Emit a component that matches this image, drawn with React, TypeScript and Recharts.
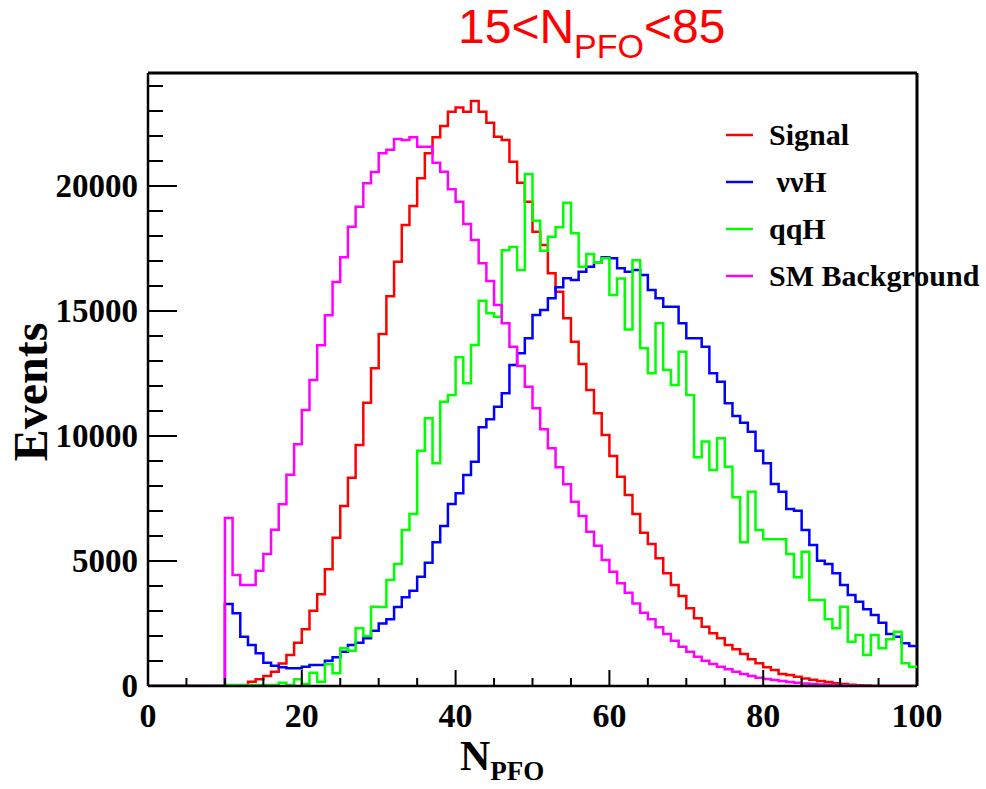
import React from 'react';
import { LineChart, Line, XAxis, YAxis, ReferenceLine, Legend, Label } from 'recharts';

// bin contents, one value per unit bin of N_PFO from 0 to 99
const signal = [
  0, 0, 0, 0, 0, 0, 0, 0, 0, 0,
  0, 0, 0, 170, 270, 400, 570, 900, 1240, 1730,
  2270, 3010, 3670, 4670, 5930, 7200, 8330, 9640, 11330, 12710,
  14080, 15590, 16970, 18440, 19200, 20310, 21310, 21950, 22400, 22970,
  23140, 22970, 23400, 22970, 22530, 21970, 21840, 20970, 20130, 19370,
  18170, 17640, 16510, 15770, 14710, 13770, 12880, 11840, 10910, 10040,
  9200, 8370, 7640, 6880, 6130, 5680, 5110, 4510, 4040, 3600,
  3110, 2710, 2370, 2110, 1910, 1640, 1470, 1280, 1070, 910,
  750, 640, 480, 440, 370, 300, 250, 200, 160, 110,
  80, 50, 30, 20, 0, 0, 0, 0, 0, 0,
];

const nunuH = [
  0, 0, 0, 0, 0, 0, 0, 0, 0, 0,
  3280, 2910, 1970, 1640, 1310, 930, 810, 750, 710, 710,
  770, 840, 840, 1010, 1150, 1370, 1640, 1730, 1910, 2210,
  2500, 2670, 3160, 3550, 3810, 4370, 4930, 5750, 6400, 7280,
  7710, 8440, 8970, 10350, 10670, 11170, 11710, 12840, 13310, 13910,
  14840, 15040, 15510, 15950, 16310, 16240, 16570, 16770, 16930, 17150,
  17110, 16710, 16570, 16640, 16440, 15840, 15510, 15170, 15170, 14510,
  13910, 13910, 13570, 12510, 12170, 11310, 10800, 10530, 10170, 9410,
  8910, 8080, 7770, 7080, 7010, 6240, 5640, 5010, 4880, 4510,
  4040, 3640, 3370, 3070, 2840, 2530, 2080, 1970, 1710, 1600,
];

const qqH = [
  0, 0, 0, 0, 0, 0, 0, 0, 0, 0,
  40, 40, 40, 40, 40, 40, 40, 130, 40, 270,
  80, 530, 170, 880, 510, 1510, 1410, 2310, 2000, 3170,
  3160, 4240, 4880, 6240, 6880, 9410, 10710, 8910, 11370, 11640,
  13150, 12110, 13640, 15410, 14910, 14770, 17430, 17560, 16640, 20480,
  18610, 17410, 17970, 18350, 19330, 18110, 16770, 17280, 16930, 17110,
  15640, 16300, 14260, 17030, 13510, 12510, 14510, 12640, 12040, 13370,
  11640, 9150, 9780, 8640, 9910, 8770, 7550, 5750, 7770, 6240,
  5870, 5870, 5870, 5280, 4350, 5370, 3440, 3440, 2670, 2310,
  3170, 1770, 2040, 1240, 2040, 1510, 1870, 2170, 910, 770,
];

const smBackground = [
  0, 0, 0, 0, 0, 0, 0, 0, 0, 0,
  6720, 4440, 4040, 4040, 4610, 5280, 6250, 7270, 8450, 9670,
  11040, 12240, 13630, 14830, 16160, 17150, 18370, 19170, 20110, 20560,
  21310, 21450, 21880, 21840, 21950, 21570, 21570, 20930, 20570, 19870,
  19370, 18480, 17840, 16910, 16200, 15240, 14510, 13570, 12800, 11970,
  11110, 10270, 9510, 8750, 8070, 7370, 6800, 6170, 5610, 5040,
  4570, 4110, 3730, 3300, 2930, 2670, 2350, 2080, 1810, 1570,
  1370, 1170, 1010, 880, 770, 670, 570, 480, 400, 330,
  280, 240, 200, 160, 130, 100, 80, 60, 50, 40,
  30, 20, 10, 0, 0, 0, 0, 0, 0, 0,
];

const xMajorTicks = [0, 20, 40, 60, 80, 100];
const yMajorTicks = [0, 5000, 10000, 15000, 20000];
const Y_MAX = 24520;

const series = [
  { key: 'signal', name: 'Signal', color: '#ff0000', values: signal },
  { key: 'nunuH', name: ' \u03bd\u03bdH', color: '#0000ff', values: nunuH },
  { key: 'qqH', name: 'qqH', color: '#00ff00', values: qqH },
  { key: 'sm', name: 'SM Background', color: '#ff00ff', values: smBackground },
];

// one row per bin edge; the last edge repeats the last bin so the step closes at 100
const data = Array.from({ length: 101 }, (_, i) => {
  const row: Record<string, number> = { x: i };
  series.forEach((s) => {
    row[s.key] = s.values[Math.min(i, 99)];
  });
  return row;
});

const xTicks = Array.from({ length: 21 }, (_, i) => i * 5);
const yTicks = Array.from({ length: 25 }, (_, i) => i * 1000);

const SERIF = '"Liberation Serif", "DejaVu Serif", serif';

const XTick = (props: any) => {
  const { x, y, payload } = props;
  const major = xMajorTicks.includes(payload.value);
  return (
    <g>
      <line x1={x} x2={x} y1={y} y2={y - (major ? 16 : 8)} stroke="#000" strokeWidth={2} />
      {major && (
        <text x={x} y={y + 41} textAnchor="middle" fontFamily={SERIF} fontWeight="bold" fontSize={34} fill="#000">
          {payload.value}
        </text>
      )}
    </g>
  );
};

const YTick = (props: any) => {
  const { x, y, payload } = props;
  const major = yMajorTicks.includes(payload.value);
  return (
    <g>
      <line x1={x} x2={x + (major ? 29 : 15)} y1={y} y2={y} stroke="#000" strokeWidth={2} />
      {major && (
        <text x={x - 10} y={y + 11} textAnchor="end" fontFamily={SERIF} fontWeight="bold" fontSize={33} fill="#000">
          {payload.value}
        </text>
      )}
    </g>
  );
};

const LegendBox = () => (
  <div style={{ fontFamily: SERIF, fontWeight: 'bold', fontSize: 30, color: '#000' }}>
    {series.map((s) => (
      <div key={s.key} style={{ display: 'flex', alignItems: 'center', height: 47, whiteSpace: 'pre' }}>
        <svg width={47} height={10}>
          <line x1={4} x2={31} y1={5} y2={5} stroke={s.color} strokeWidth={2.5} />
        </svg>
        <span>{s.name}</span>
      </div>
    ))}
  </div>
);

export default function App() {
  return (
    <div style={{ position: 'absolute', left: 0, top: 0, width: 986, height: 789, background: '#fff' }}>
      <svg width={986} height={70} style={{ position: 'absolute', left: 0, top: 0 }}>
        <text x={458} y={43} fontFamily='"Liberation Sans", Arial, sans-serif' fontSize={48} fill="#ff0000">
          15&lt;N
          <tspan fontSize={34} dy={15}>PFO</tspan>
          <tspan dy={-15}>&lt;85</tspan>
        </text>
      </svg>
      <LineChart width={986} height={789} data={data} margin={{ top: 73, right: 69, bottom: 0, left: 0 }}>
        <XAxis
          dataKey="x"
          type="number"
          domain={[0, 100]}
          ticks={xTicks}
          interval={0}
          height={103}
          tickSize={0}
          tickMargin={0}
          tickLine={false}
          tick={<XTick />}
          axisLine={{ stroke: '#000', strokeWidth: 2.5 }}
        >
          <Label
            content={() => (
              <text x={460} y={770} fontFamily={SERIF} fontWeight="bold" fontSize={42} fill="#000">
                N
                <tspan fontSize={27} dy={10}>PFO</tspan>
              </text>
            )}
          />
        </XAxis>
        <YAxis
          type="number"
          domain={[0, Y_MAX]}
          allowDataOverflow
          ticks={yTicks}
          interval={0}
          width={148}
          tickSize={0}
          tickMargin={0}
          tickLine={false}
          tick={<YTick />}
          axisLine={{ stroke: '#000', strokeWidth: 2.5 }}
        >
          <Label
            content={() => (
              <text
                x={47}
                y={392}
                transform="rotate(-90 47 392)"
                textAnchor="middle"
                fontFamily={SERIF}
                fontWeight="bold"
                fontSize={48}
                fill="#000"
              >
                Events
              </text>
            )}
          />
        </YAxis>
        <ReferenceLine y={Y_MAX} stroke="#000" strokeWidth={3} />
        <ReferenceLine x={100} stroke="#000" strokeWidth={3} />
        {series.map((s) => (
          <Line
            key={s.key}
            dataKey={s.key}
            name={s.name}
            type="stepAfter"
            stroke={s.color}
            strokeWidth={2.5}
            dot={false}
            activeDot={false}
            isAnimationActive={false}
          />
        ))}
        <Legend
          layout="vertical"
          align="center"
          verticalAlign="middle"
          wrapperStyle={{ left: 722, top: 111, width: 270 }}
          content={<LegendBox />}
        />
      </LineChart>
    </div>
  );
}
